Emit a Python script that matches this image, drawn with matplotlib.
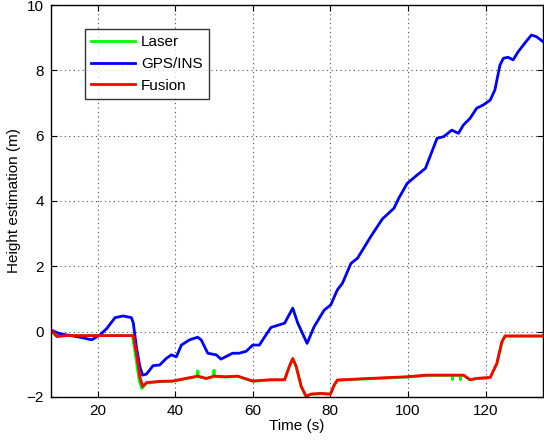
"""
Height estimation over time: laser, GPS/INS and fused estimate.
"""

import matplotlib
matplotlib.use("Agg")
import matplotlib.pyplot as plt

# ---- Data ----

t_gps = [8, 9, 10, 12, 15.5, 18.5, 20.6, 22.4, 24.5, 26.6, 28.7, 29.2, 30.0,
         30.9, 31.6, 32.6, 34.3, 36, 37.7, 39, 40.3, 41.6, 43.7, 45.8, 46.7,
         48.4, 50.6, 51.8, 54.8, 56.5, 58.3, 60, 61.7, 63.4, 64.7, 68.2, 70.3,
         71.6, 74, 75.8, 78.4, 80.1, 81.8, 83.1, 85.3, 87, 90.4, 93.4, 96.4,
         97.6, 99.8, 102.4, 104.5, 107.5, 109.2, 111.3, 113, 114.3, 116, 117.7,
         119.4, 121.2, 122.4, 123.7, 124.6, 125.8, 127.1, 128.4, 130.1, 131.8,
         133.1, 134.8]
h_gps = [0.05, 0.0, -0.05, -0.1, -0.17, -0.25, -0.1, 0.1, 0.43, 0.48, 0.43,
         0.27, -0.46, -1.07, -1.33, -1.3, -1.04, -1.02, -0.82, -0.71, -0.77,
         -0.41, -0.25, -0.17, -0.25, -0.66, -0.71, -0.84, -0.66, -0.66, -0.6,
         -0.41, -0.41, -0.1, 0.13, 0.26, 0.72, 0.26, -0.36, 0.15, 0.66, 0.82,
         1.28, 1.48, 2.09, 2.25, 2.91, 3.45, 3.78, 4.08, 4.54, 4.8, 5.0, 5.92,
         5.97, 6.17, 6.07, 6.33, 6.53, 6.84, 6.94, 7.09, 7.4, 8.16, 8.37, 8.4,
         8.32, 8.57, 8.83, 9.08, 9.03, 8.88]

t_fus = [8, 9.5, 12, 20, 29.2, 30.0, 30.9, 31.6, 32.6, 36, 39.4, 42.8, 45.8,
         48, 50.1, 53.1, 56.1, 60, 64.7, 68.2, 69.4, 70.3, 71.2, 72.5, 73.7,
         75, 77.6, 80, 81, 81.8, 90.4, 99.8, 104.9, 114.3, 116, 117.7, 121.2,
         122.9, 124.2, 125, 134.8]
h_fus = [0.05, -0.15, -0.12, -0.12, -0.12, -0.65, -1.38, -1.68, -1.56, -1.52,
         -1.51, -1.43, -1.36, -1.43, -1.36, -1.38, -1.36, -1.51, -1.47, -1.47,
         -1.07, -0.82, -1.07, -1.68, -1.97, -1.91, -1.89, -1.91, -1.63, -1.48,
         -1.43, -1.38, -1.33, -1.33, -1.47, -1.43, -1.40, -0.97, -0.31, -0.13,
         -0.13]

t_las = [8, 9.2, 12, 20, 29.0, 29.8, 30.7, 31.4, 32.6, 36, 39.4, 42.8, 45.6,
         45.8, 46.0, 48, 49.8, 50.0, 50.2, 53.1, 56.1, 60, 64.7, 68.2, 69.4,
         70.3, 71.2, 72.5, 73.7, 75, 77.6, 80, 81, 81.8, 90.4, 99.8, 104.9,
         111.4, 111.5, 111.6, 113.4, 113.5, 113.6, 114.3, 116, 117.7, 121.2,
         122.9, 124.2, 125, 134.8]
h_las = [0.05, -0.12, -0.12, -0.12, -0.12, -0.75, -1.5, -1.74, -1.58, -1.53,
         -1.52, -1.44, -1.38, -1.2, -1.38, -1.44, -1.38, -1.18, -1.38, -1.39,
         -1.37, -1.52, -1.48, -1.48, -1.08, -0.83, -1.08, -1.69, -1.98, -1.92,
         -1.9, -1.92, -1.64, -1.49, -1.44, -1.39, -1.34, -1.34, -1.47, -1.34,
         -1.34, -1.47, -1.34, -1.34, -1.48, -1.44, -1.41, -0.98, -0.32, -0.14,
         -0.14]

x_ticks = [20, 40, 60, 80, 100, 120]
y_ticks = [-2, 0, 2, 4, 6, 8, 10]

# ---- Plot ----

plt.rcParams["font.family"] = ["Liberation Sans", "DejaVu Sans"]
plt.rcParams["axes.unicode_minus"] = True

fig = plt.figure(figsize=(5.44, 4.43), dpi=100)
ax = fig.add_axes([51 / 544, 46 / 443, 492 / 544, 392 / 443])

ax.plot(t_las, h_las, color="#00ff00", lw=2, label="Laser")
ax.plot(t_gps, h_gps, color="#0000ff", lw=2, label="GPS/INS")
ax.plot(t_fus, h_fus, color="#ff0000", lw=2, label="Fusion")

ax.set_xlim(8, 134.8)
ax.set_ylim(-2, 10)
ax.set_xticks(x_ticks)
ax.set_yticks(y_ticks)
ax.grid(True, color="0.3", linestyle=(0, (1, 3)), linewidth=0.8)
ax.tick_params(direction="in", length=4, width=0.8, labelsize=11,
               top=True, right=True, pad=5)
for spine in ax.spines.values():
    spine.set_linewidth(1.0)

ax.set_xlabel("Time (s)", fontsize=11, labelpad=1)
ax.set_ylabel("Height estimation (m)", fontsize=11, labelpad=4)

leg = ax.legend(loc="upper left", bbox_to_anchor=(0.0685, 0.938),
                borderaxespad=0, fancybox=False, fontsize=11,
                handlelength=2.9, handletextpad=0.4, labelspacing=0.5,
                borderpad=0.4)
leg.get_frame().set_edgecolor("black")
leg.get_frame().set_linewidth(1.0)

plt.savefig("out.png", dpi=100)
